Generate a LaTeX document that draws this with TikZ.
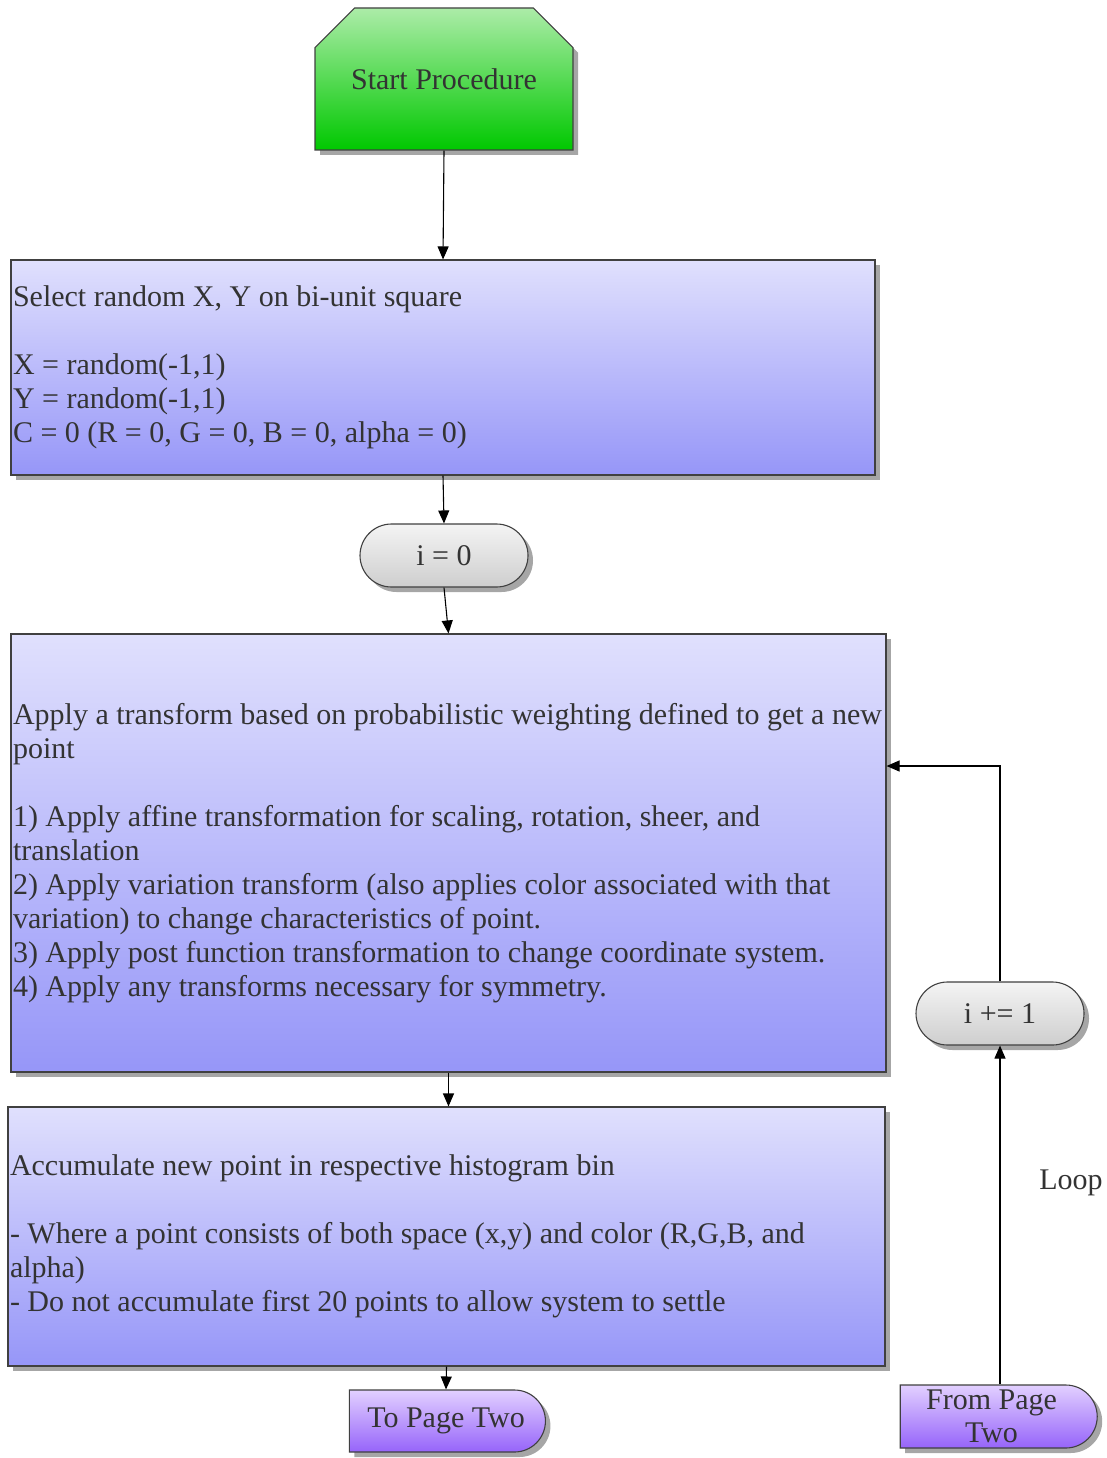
\documentclass[tikz,border=0pt]{standalone}
\usepackage{fontspec}
\setmainfont{Liberation Serif}
\usetikzlibrary{shapes.misc,shadows,arrows.meta}
\definecolor{boxtop}{RGB}{224,224,253}
\definecolor{boxbot}{RGB}{150,150,248}
\definecolor{pilltop}{RGB}{244,244,244}
\definecolor{pillbot}{RGB}{206,206,206}
\definecolor{purtop}{RGB}{226,208,255}
\definecolor{purbot}{RGB}{150,100,250}
\definecolor{grtop}{RGB}{172,236,168}
\definecolor{grbot}{RGB}{0,200,0}
\definecolor{txt}{RGB}{51,51,51}
\newcommand{\diagfont}{\fontsize{30}{34}\selectfont}
\begin{document}
\begin{tikzpicture}[x=1pt,y=-1pt,
  every node/.style={text=txt, font=\diagfont, execute at begin node={\spaceskip=0pt\xspaceskip=0pt\relax}},
  sh/.style={drop shadow={shadow xshift=5pt,shadow yshift=-5pt,fill=black!35,opacity=1}},
  border/.style={draw=black!75, line width=1.1pt},
  procbox/.style={rectangle, border, top color=boxtop, bottom color=boxbot, sh, inner xsep=2pt, inner ysep=0pt, align=left},
  pill/.style={rounded rectangle, border, top color=pilltop, bottom color=pillbot, sh, inner sep=0pt, minimum width=168pt, minimum height=63pt},
  term/.style={rounded rectangle, rounded rectangle left arc=none, border, top color=purtop, bottom color=purbot, sh, inner sep=0pt, align=center},
  arr/.style={-{Triangle[length=13pt,width=11pt]}, line width=1.1pt, draw=black},
]
\useasboundingbox (0,0) rectangle (1107,1458);

\node[chamfered rectangle, chamfered rectangle corners={north west,north east},
      chamfered rectangle xsep=51pt, chamfered rectangle ysep=29pt,
      border, top color=grtop, bottom color=grbot, sh, inner sep=0pt,
      minimum width=258pt, minimum height=142pt] (start) at (444,79) {Start Procedure};

\node[procbox, text width=860pt, minimum height=215pt] (box1) at (443,367.5)
 {Select random X, Y on bi-unit square\\[34pt]
  X = random(-1,1)\\
  Y = random(-1,1)\\
  C = 0 (R = 0, G = 0, B = 0, alpha = 0)};

\node[pill] (i0) at (444,555.5) {i = 0};

\node[procbox, text width=871pt, minimum height=438pt] (box2) at (448.5,853)
 {\mbox{Apply a transform based on probabilistic weighting defined to get a new}\\
  point\\[34pt]
  1) Apply affine transformation for scaling, rotation, sheer, and\\
  translation\\
  2) Apply variation transform (also applies color associated with that\\
  variation) to change characteristics of point.\\
  3) Apply post function transformation to change coordinate system.\\
  4) Apply any transforms necessary for symmetry.};

\node[procbox, text width=873pt, minimum height=259pt] (box3) at (446.5,1236.5)
 {Accumulate new point in respective histogram bin\\[34pt]
  - Where a point consists of both space (x,y) and color (R,G,B, and\\
  alpha)\\
  - Do not accumulate first 20 points to allow system to settle};

\node[term, minimum width=196pt, minimum height=62pt] (to) at (446,1421) {To Page Two};
\node[term, minimum width=197pt, minimum height=63pt, align=center] (from) at (991.5,1416.5) {From Page\\[-1pt]Two};

\node[pill] (ip1) at (1000,1013.5) {i += 1};

\node (loop) at (1071,1183) {Loop};

\draw[arr] (start.south) -- (box1.north);
\draw[arr] (box1.south) -- (i0.north);
\draw[arr] (i0.south) -- (box2.north);
\draw[arr] (box2.south) -- (box2.south |- box3.north);
\draw[arr] (box3.south) -- (to.north);
\draw[arr] (from.north -| ip1.south) -- (ip1.south);
\draw[arr] (ip1.north) |- ([yshift=87pt]box2.east);
\end{tikzpicture}
\end{document}
